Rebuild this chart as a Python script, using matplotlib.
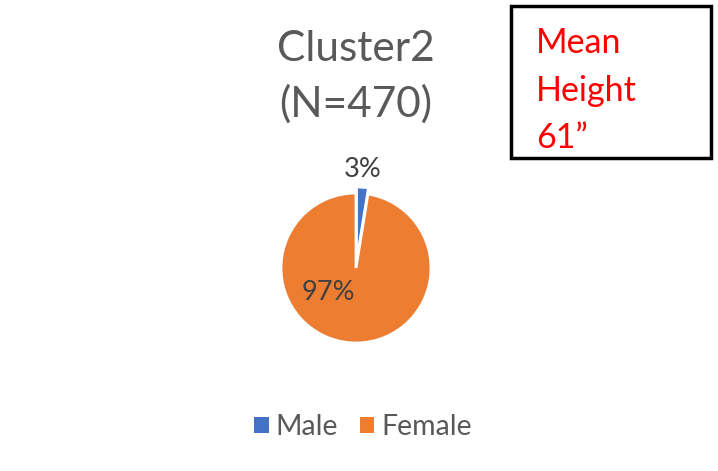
import matplotlib
matplotlib.use("Agg")
import matplotlib.pyplot as plt
from matplotlib.patches import Rectangle, Patch

# data
labels = ["Male", "Female"]
counts = [12, 458]
colors = ["#4472C4", "#ED7D31"]
title = "Cluster2\n(N=470)"
note = "Mean\nHeight\n61\u201d"

plt.rcParams["font.family"] = ["Lato", "DejaVu Sans"]
grey = "#595959"

fig = plt.figure(figsize=(7.18, 4.71), dpi=100)

# pie axes: centre at (356, 268) px, radius 75 px
W, H = 718, 471
cx, cy, r = 356, 268, 75
half = 2 * r
ax = fig.add_axes([(cx - half) / W, (H - cy - half) / H, 2 * half / W, 2 * half / H])
wedges, _ = ax.pie(counts, colors=colors, startangle=90, counterclock=False,
                   explode=[0.08, 0], radius=1,
                   wedgeprops=dict(edgecolor="white", linewidth=2))
ax.set_xlim(-2, 2)
ax.set_ylim(-2, 2)
ax.set_aspect("equal")
ax.axis("off")

total = sum(counts)
pcts = ["%d%%" % round(c * 100 / total) for c in counts]
ax.text(0.09, 1.31, pcts[0], ha="center", va="center", fontsize=19.5, color="#404040")
ax.text(-0.37, -0.33, pcts[1], ha="center", va="center", fontsize=19.5, color="#404040")

fig.text(cx / W, 1 - 77 / H, title, ha="center", va="center", fontsize=30.5,
         color=grey, linespacing=1.5)

# note box
fig.patches.append(Rectangle((511 / W, 1 - 158 / H), 200 / W, 152 / H,
                             transform=fig.transFigure, fill=False,
                             edgecolor="black", linewidth=2.5))
fig.text(536 / W, 1 - 27 / H, note, ha="left", va="top", fontsize=24.5,
         color="red", linespacing=1.6)

handles = [Patch(facecolor=c, edgecolor="none") for c in colors]
fig.legend(handles, labels, loc="center", bbox_to_anchor=(363 / W, 1 - 427 / H),
           ncol=2, frameon=False, fontsize=20.5, labelcolor=grey,
           handlelength=0.5, handleheight=0.5, handletextpad=0.25, columnspacing=0.75)

fig.savefig("out.png", dpi=100)
